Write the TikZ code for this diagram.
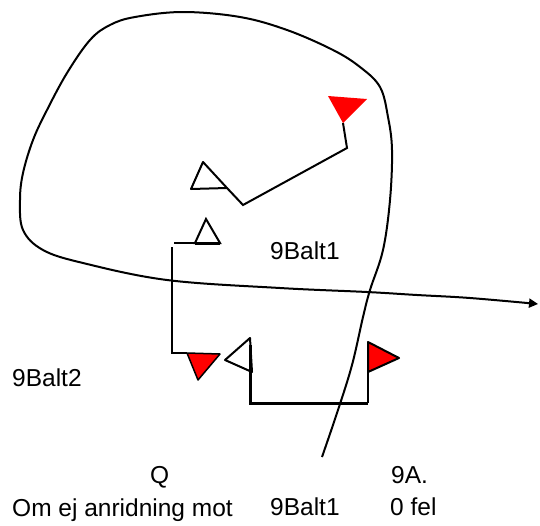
\documentclass[tikz,border=0pt]{standalone}
\usepackage{fontspec}
\setmainfont{Liberation Sans}
\usetikzlibrary{arrows.meta}
\begin{document}
\begin{tikzpicture}[x=1pt,y=-1pt]

      \useasboundingbox (0,0) rectangle (540,525);

      \begin{scope}[every node/.style={anchor=base west,inner sep=0pt,font=\fontsize{24.5}{29}\selectfont}]
        \node (balt1)  at (270,259) {9Balt1};
        \node (balt2)  at (12,386)  {9Balt2};
        \node (q)      at (150,483) {Q};
        \node (nineA)  at (391,483) {9A.};
        \node (om)     at (12,516)  {Om ej anridning mot};
        \node (balt1b) at (270,515) {9Balt1};
        \node (fel)    at (390,515) {0 fel};
      \end{scope}

      % the loop
      \draw[line width=2pt,-{Triangle[length=9pt,width=9pt]}] plot[smooth,tension=0.6] coordinates {
        (322,457) (338,410) (352,365) (363,317) (370,290) (383,250) (390,200)
        (392,150) (388,117) (380,87) (360,67) (333,50) (287,30) (240,17) (183,12)
        (135,17) (110,25) (90,40) (67,73) (47,110) (33,140) (23,173) (20,200)
        (23,230) (43,250) (83,263) (167,280) (280,288) (367,292) (417,295)
        (470,298) (538,304)};

      \begin{scope}[line width=2pt]
        \coordinate (p1) at (343,123);
        \coordinate (p2) at (347,148);
        \coordinate (p3) at (243,205);
        \coordinate (p4) at (227,188);
        \coordinate (p5) at (174,243);
        \coordinate (p6) at (195,243);
        \coordinate (p7) at (172,247);
        \coordinate (p8) at (172,353);
        \coordinate (p9) at (187,353);
        \coordinate (p10) at (250,345);
        \coordinate (p11) at (250,403);
        \coordinate (p12) at (368,403);
        \coordinate (p13) at (368,342);

        \draw (p1) -- (p2) -- (p3) -- (p4);
        \draw (p5) -- (p6);
        \draw (p7) -- (p8) -- (p9);
        \draw[line width=3pt] (p10) -- (p11) -- (p12);
        \draw (p12) -- (p13);
      \end{scope}

      % flags
      \fill[red] (328,96) -- (367,99) -- (p1) -- cycle;
      \draw[line width=2pt,line join=round] (203,162) -- (191,189) -- (p4) -- cycle;
      \draw[line width=2pt] (206,219) -- (195,243) -- (220,243) -- cycle;
      \draw[line width=3pt] (195,243) -- (220,243);
      \draw[fill=red,line width=1.5pt,line join=round] (p9) -- (220,354) -- (198,380) -- cycle;
      \draw[line width=2pt,line join=round] (225,360) -- (250,338) -- (252,372) -- cycle;
      \draw[fill=red,line width=2pt,line join=round] (p13) -- (399,358) -- (368,372) -- cycle;

    \end{tikzpicture}
\end{document}
